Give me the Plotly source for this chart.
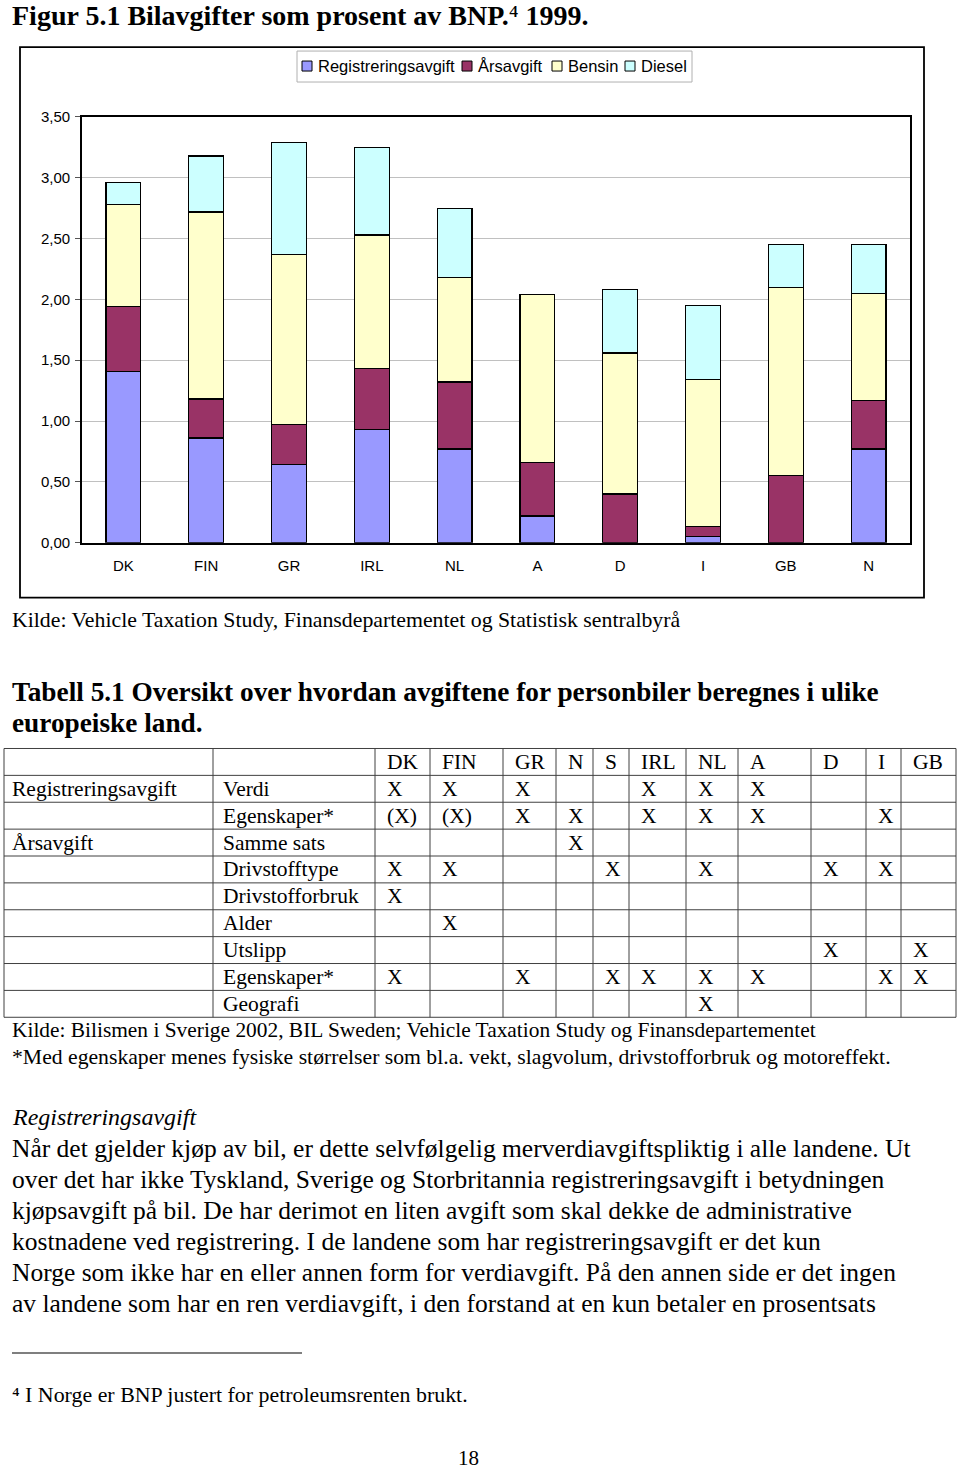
import plotly.graph_objects as go

W, H = 960, 1475

# ---------------- chart data ----------------
countries = ["DK", "FIN", "GR", "IRL", "NL", "A", "D", "I", "GB", "N"]
registrering = [1.41, 0.86, 0.64, 0.93, 0.77, 0.22, None, 0.05, None, 0.77]
arsavgift = [0.53, 0.32, 0.33, 0.50, 0.55, 0.44, 0.40, 0.08, 0.55, 0.40]
bensin = [0.84, 1.54, 1.40, 1.10, 0.86, 1.38, 1.16, 1.21, 1.55, 0.88]
diesel = [0.18, 0.46, 0.92, 0.72, 0.57, None, 0.52, 0.61, 0.35, 0.40]
series_names = ["Registreringsavgift", "Årsavgift", "Bensin", "Diesel"]
series_colors = ["#9999FF", "#993366", "#FFFFCC", "#CCFFFF"]

# ---------------- table data ----------------
table_cols = ["DK", "FIN", "GR", "N", "S", "IRL", "NL", "A", "D", "I", "GB"]
table_groups = ["Registreringsavgift", "", "Årsavgift", "", "", "", "", "", ""]
table_items = ["Verdi", "Egenskaper*", "Samme sats", "Drivstofftype", "Drivstofforbruk",
               "Alder", "Utslipp", "Egenskaper*", "Geografi"]
table_marks = [
    ["X", "X", "X", "", "", "X", "X", "X", "", "", ""],
    ["(X)", "(X)", "X", "X", "", "X", "X", "X", "", "X", ""],
    ["", "", "", "X", "", "", "", "", "", "", ""],
    ["X", "X", "", "", "X", "", "X", "", "X", "X", ""],
    ["X", "", "", "", "", "", "", "", "", "", ""],
    ["", "X", "", "", "", "", "", "", "", "", ""],
    ["", "", "", "", "", "", "", "", "X", "", "X"],
    ["X", "", "X", "", "X", "X", "X", "X", "", "X", "X"],
    ["", "", "", "", "", "", "X", "", "", "", ""],
]

# ---------------- texts ----------------
fig_title = "Figur 5.1 Bilavgifter som prosent av BNP.<span style='font-weight:normal'>⁴</span> 1999."
chart_source = "Kilde: Vehicle Taxation Study, Finansdepartementet og Statistisk sentralbyrå"
table_title = ["Tabell 5.1 Oversikt over hvordan avgiftene for personbiler beregnes i ulike",
               "europeiske land."]
table_source = "Kilde: Bilismen i Sverige 2002, BIL Sweden; Vehicle Taxation Study og Finansdepartementet"
table_note = "*Med egenskaper menes fysiske størrelser som bl.a. vekt, slagvolum, drivstofforbruk og motoreffekt."
section_head = "Registreringsavgift"
paragraph = [
    "Når det gjelder kjøp av bil, er dette selvfølgelig merverdiavgiftspliktig i alle landene. Ut",
    "over det har ikke Tyskland, Sverige og Storbritannia registreringsavgift i betydningen",
    "kjøpsavgift på bil. De har derimot en liten avgift som skal dekke de administrative",
    "kostnadene ved registrering. I de landene som har registreringsavgift er det kun",
    "Norge som ikke har en eller annen form for verdiavgift. På den annen side er det ingen",
    "av landene som har en ren verdiavgift, i den forstand at en kun betaler en prosentsats",
]
footnote = "⁴ I Norge er BNP justert for petroleumsrenten brukt."
page_no = "18"

SERIF = "Liberation Serif"
SANS = "Liberation Sans"

# vertical placement correction (page appears squeezed around its centre)
VS, VOFF = 1491 / 1475, 8


def px(x):
    return x / W


def py(y):
    return 1 - (y * VS - VOFF) / H


fig = go.Figure()
for name, vals, col in zip(series_names, [registrering, arsavgift, bensin, diesel], series_colors):
    fig.add_trace(go.Bar(
        x=countries, y=vals, name=name, showlegend=False,
        marker=dict(color=col, line=dict(color="black", width=1.3)),
    ))

shapes = []
annotations = []

# outer chart frame
shapes.append(dict(type="rect", xref="paper", yref="paper", x0=px(20), x1=px(924),
                   y0=py(597), y1=py(46), line=dict(color="black", width=1.8)))

# manual legend
shapes.append(dict(type="rect", xref="paper", yref="paper", x0=px(297), x1=px(692),
                   y0=py(81), y1=py(50), line=dict(color="#B0B0B0", width=1)))
legend_x = [302, 462, 552, 625]
for lx, name, col in zip(legend_x, series_names, series_colors):
    shapes.append(dict(type="rect", xref="paper", yref="paper", x0=px(lx), x1=px(lx + 10),
                       y0=py(70), y1=py(60), fillcolor=col, line=dict(color="black", width=1)))
    annotations.append(dict(x=px(lx + 14), y=py(65), xref="paper", yref="paper", text=name,
                            showarrow=False, xanchor="left", yanchor="middle",
                            font=dict(family=SANS, size=16.5, color="black")))


def text(x, y, s, size, bold=False, italic=False, family=SERIF):
    annotations.append(dict(
        x=px(x), y=py(y), xref="paper", yref="paper", text=s, showarrow=False,
        xanchor="left", yanchor="middle",
        font=dict(family=family, size=size, color="black",
                  weight="bold" if bold else "normal",
                  style="italic" if italic else "normal"),
    ))


text(10, 14, fig_title, 28, bold=True)
text(10, 619, chart_source, 21.8)
text(10, 691, table_title[0], 27.3, bold=True)
text(10, 722, table_title[1], 27.3, bold=True)

# ---------------- table ----------------
col_edges = [4, 213, 375, 430, 503, 556, 593, 629, 686, 738, 811, 866, 901, 956]
row_top, row_h = 748, 26.9
n_rows = len(table_items) + 1
row_bottom = row_top + n_rows * row_h
line_style = dict(color="#404040", width=1)
for i in range(n_rows + 1):
    yy = row_top + i * row_h
    shapes.append(dict(type="line", xref="paper", yref="paper", x0=px(col_edges[0]),
                       x1=px(col_edges[-1]), y0=py(yy), y1=py(yy), line=line_style))
for xe in col_edges:
    shapes.append(dict(type="line", xref="paper", yref="paper", x0=px(xe), x1=px(xe),
                       y0=py(row_top), y1=py(row_bottom), line=line_style))

pads = [6, 8] + [10] * len(table_cols)
TS = 21.5
for j, c in enumerate(table_cols):
    text(col_edges[j + 2] + pads[j + 2], row_top + row_h * 0.5, c, TS)
for r in range(len(table_items)):
    yc = row_top + row_h * (r + 1.5)
    if table_groups[r]:
        text(col_edges[0] + pads[0], yc, table_groups[r], TS)
    text(col_edges[1] + pads[1], yc, table_items[r], TS)
    for j, m in enumerate(table_marks[r]):
        if m:
            text(col_edges[j + 2] + pads[j + 2], yc, m, TS)

text(10, 1030, table_source, 21.4)
text(10, 1057, table_note, 21.7)
text(10, 1117, section_head, 24, italic=True)
for k, line in enumerate(paragraph):
    text(10, 1148 + k * 31, line, 25.5)

shapes.append(dict(type="line", xref="paper", yref="paper", x0=px(12), x1=px(302),
                   y0=py(1353), y1=py(1353), line=dict(color="black", width=1.2)))
text(10, 1395, footnote, 21.9)
text(456, 1458, page_no, 21)

fig.update_layout(
    width=W, height=H, autosize=False,
    margin=dict(l=0, r=0, t=0, b=0),
    paper_bgcolor="white", plot_bgcolor="white",
    barmode="stack", bargap=0.58,
    separators=",.",
    font=dict(family=SANS, size=15, color="black"),
    shapes=shapes, annotations=annotations,
    xaxis=dict(domain=[px(82), px(910)], showline=True, linecolor="black", linewidth=1.6,
               mirror=True, ticks="", showgrid=False, ticklabelstandoff=9,
               tickfont=dict(family=SANS, size=15, color="black")),
    yaxis=dict(domain=[py(542), py(116)], range=[0, 3.5], dtick=0.5, tick0=0,
               tickformat=".2f", showline=True, linecolor="black", linewidth=1.6,
               mirror=True, ticks="outside", ticklen=5, tickcolor="#555",
               showgrid=True, gridcolor="#C0C0C0", gridwidth=1, zeroline=False,
               ticklabelstandoff=2,
               tickfont=dict(family=SANS, size=15, color="black")),
)

fig.write_html("out.html")
